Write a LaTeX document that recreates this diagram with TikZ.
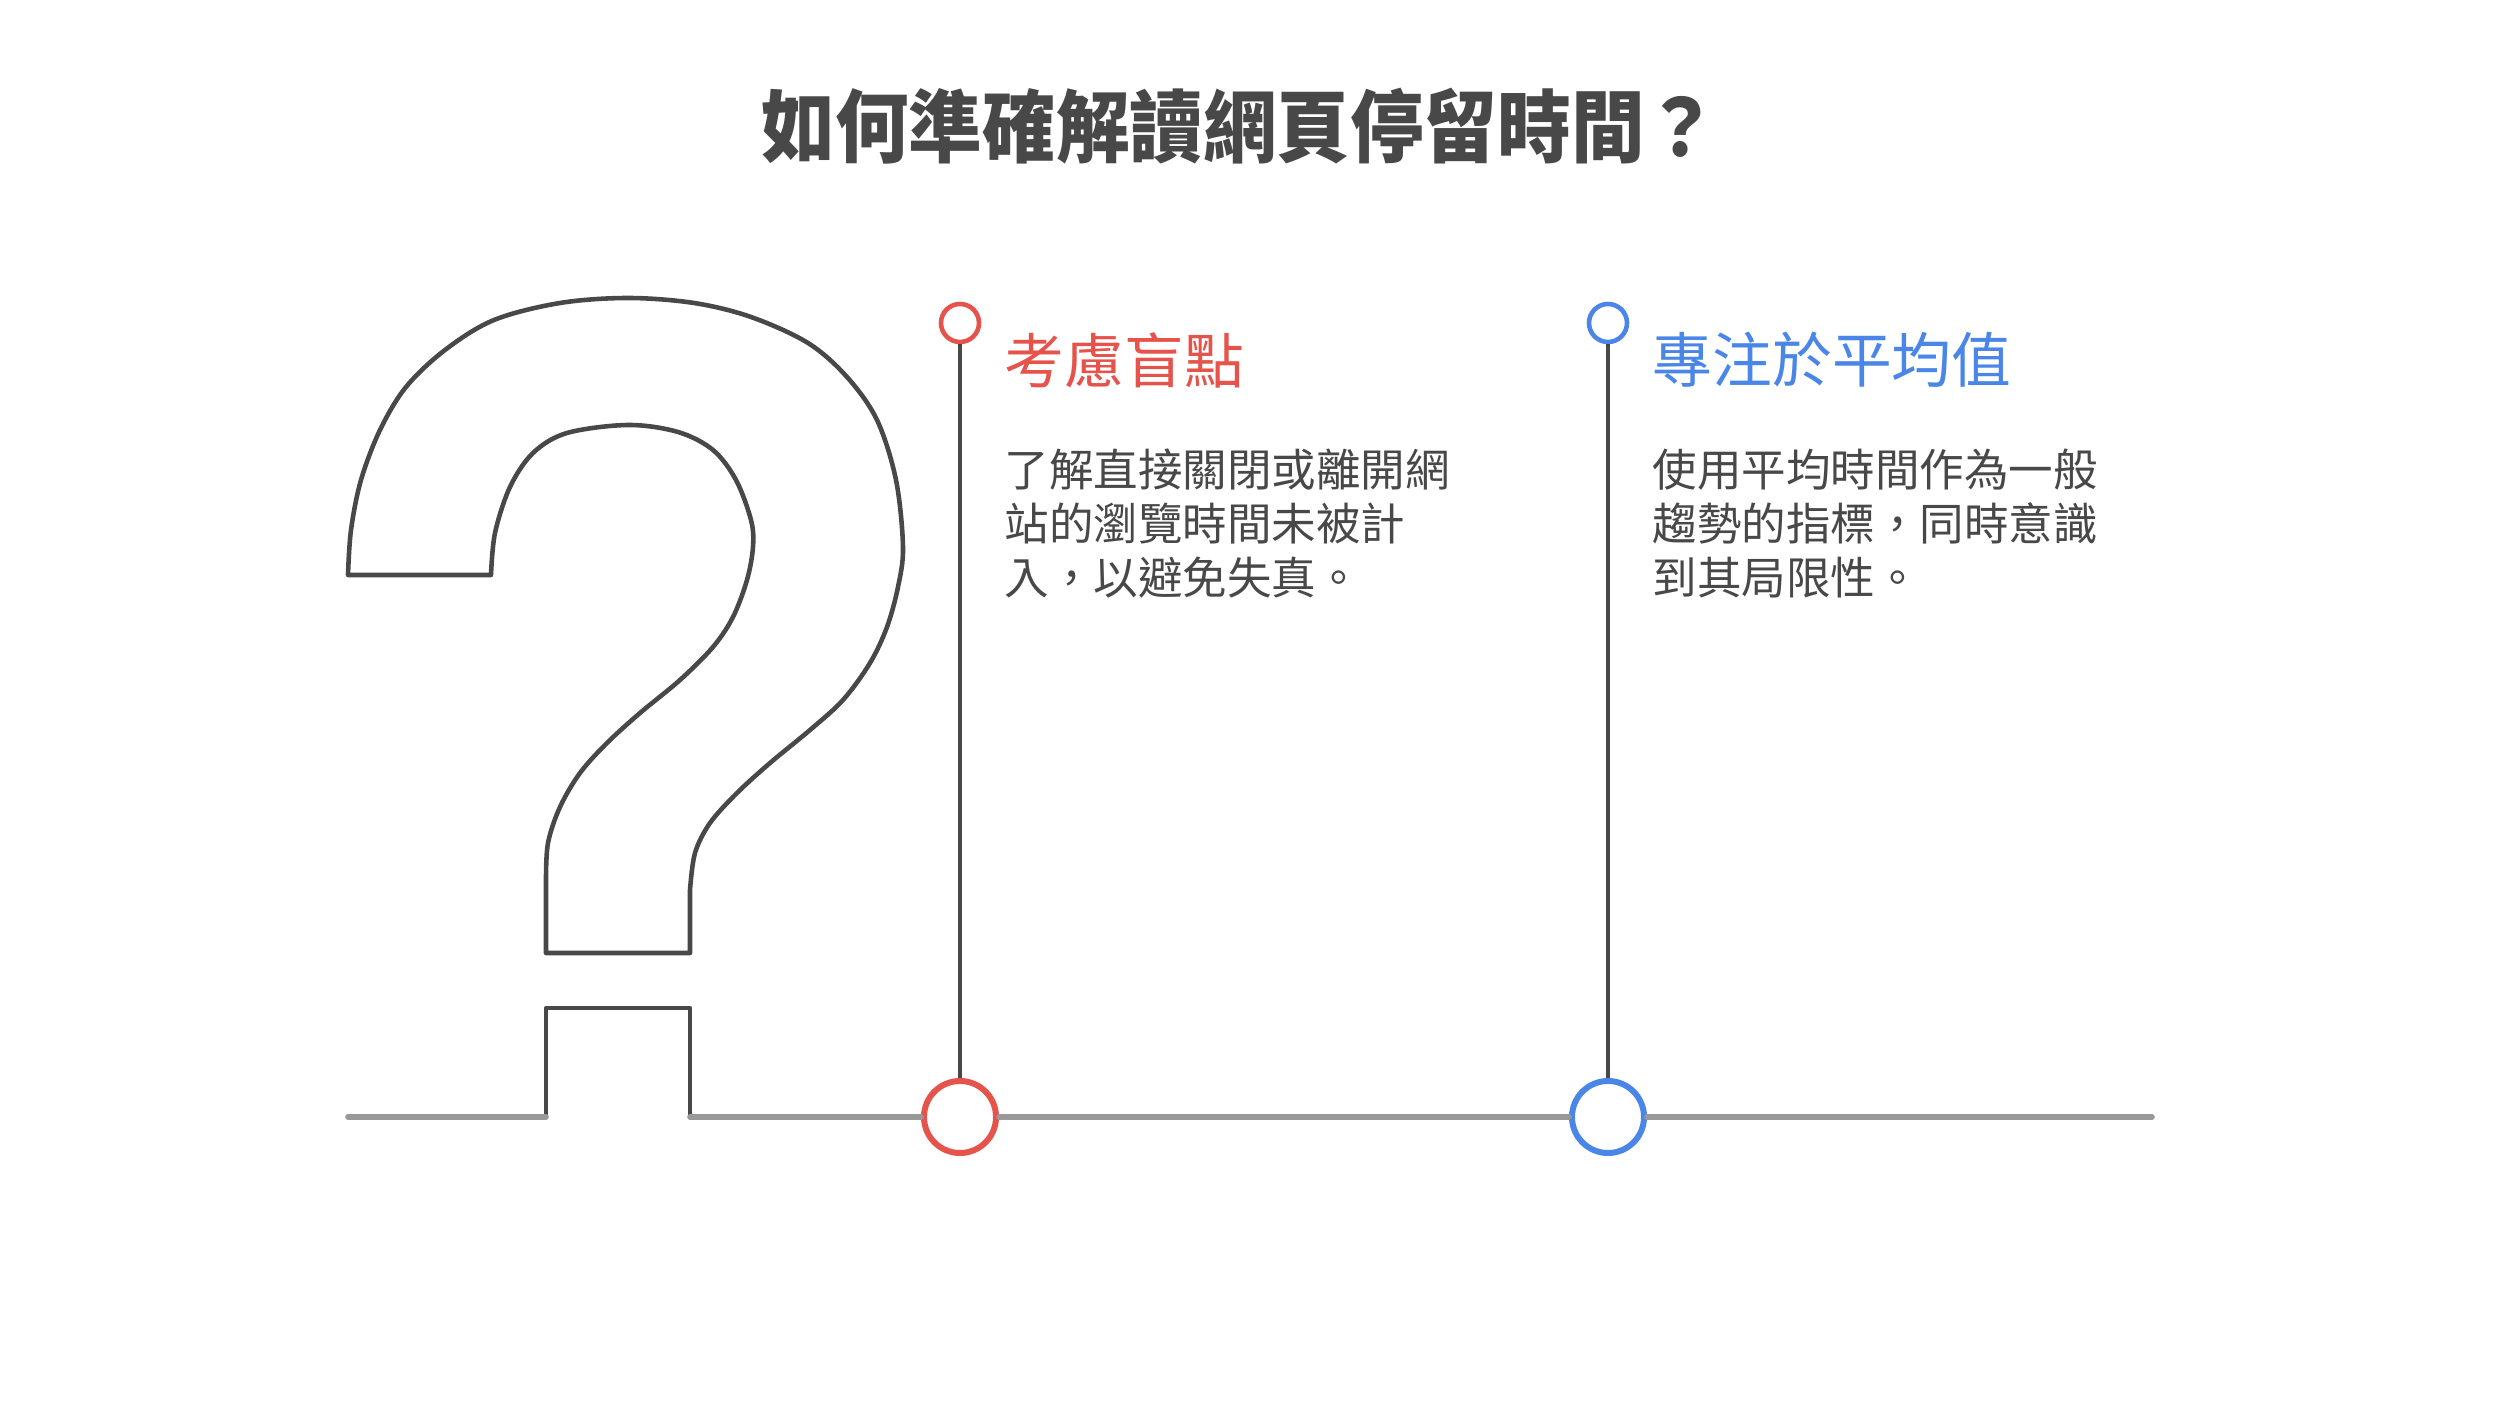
\documentclass[tikz,border=0pt]{standalone}
\usepackage{fontspec}
\newfontfamily\cjk{Noto Sans CJK TC}
\usepackage{tikz}
\usetikzlibrary{positioning}
\definecolor{ink}{HTML}{484848}
\definecolor{blindred}{HTML}{E5534B}
\definecolor{focusblue}{HTML}{4A86E8}
\definecolor{rulegray}{HTML}{999999}

\begin{document}
\begin{tikzpicture}
[x=0.01cm,y=-0.01cm,
 qline/.style={draw=ink,line width=1.3pt,line join=round},
 stem/.style={draw=ink,line width=1.4pt},
 ground/.style={draw=rulegray,line width=1.6pt,line cap=round},
 pin/.style={circle,draw,fill=white,line width=1.3pt,inner sep=0pt,minimum size=0.38cm},
 hub/.style={circle,draw,fill=white,line width=1.7pt,inner sep=0pt,minimum size=0.72cm},
 heading/.style={anchor=west,inner sep=0pt,font=\cjk\fontsize{17pt}{20pt}\selectfont},
 body/.style={anchor=north west,inner sep=0pt,align=left,text=ink,font=\cjk\fontsize{12.66pt}{15.36pt}\selectfont}]
\path[fill=white] (0,0) rectangle (2496,1404);
\useasboundingbox (0,0) rectangle (2496,1404);

\node[text=ink,font=\cjk\bfseries\fontsize{22.5pt}{26pt}\selectfont] (title) at (1240,126) {\scalebox{0.93}[1]{如何準確解讀網頁停留時間？}};

% the question mark
\draw[qline] plot[smooth,tension=0.55] coordinates {(348,575) (351,530) (361,480) (380,430) (406,387) (445,350) (494,320) (560,303) (628,298) (694,303) (751,317) (808,343) (847,377) (877,420) (896,480) (903,547) (898,587) (887,627) (870,663) (843,700) (810,730) (770,763) (737,793) (710,823) (695,853) (690,890)}
  -- (690,953) -- (546,953)
  -- plot[smooth,tension=0.55] coordinates {(546,880) (548,843) (560,807) (580,773) (607,743) (640,713) (680,680) (713,647) (733,617) (747,580) (753,547) (751,520) (736,480) (713,450) (678,432) (628,425) (567,433) (533,453) (510,487) (495,533) (491,575)}
  -- cycle;

\coordinate (groundstart) at (348,1117);
\coordinate (dotL) at (546,1117);
\coordinate (dotR) at (690,1117);
\coordinate (groundend) at (2152,1117);
\draw[qline] (dotL) -- (546,1008) -- (690,1008) -- (dotR);

% the two points
\node[pin,draw=blindred] (blindpin) at (960,323) {};
\node[hub,draw=blindred] (blindhub) at (960,1117) {};
\node[pin,draw=focusblue] (focuspin) at (1608,323) {};
\node[hub,draw=focusblue] (focushub) at (1608,1117) {};

\path
(groundstart) edge[ground] (dotL)
(dotR) edge[ground] (blindhub)
(blindhub) edge[ground] (focushub)
(focushub) edge[ground] (groundend)
(blindpin) edge[stem] (blindhub)
(focuspin) edge[stem] (focushub)
;

\node[heading,text=blindred] (blindtitle) at (1004,360) {考慮盲點};
\node[body] (blindtext) at (1004,448) {了解直接關閉或離開網\\站的瀏覽時間未被計\\入，以避免失真。};
\node[heading,text=focusblue] (focustitle) at (1652,360) {專注於平均值};
\node[body] (focustext) at (1652,448) {使用平均時間作為一般\\趨勢的指標，同時意識\\到其局限性。};
\end{tikzpicture}
\end{document}
